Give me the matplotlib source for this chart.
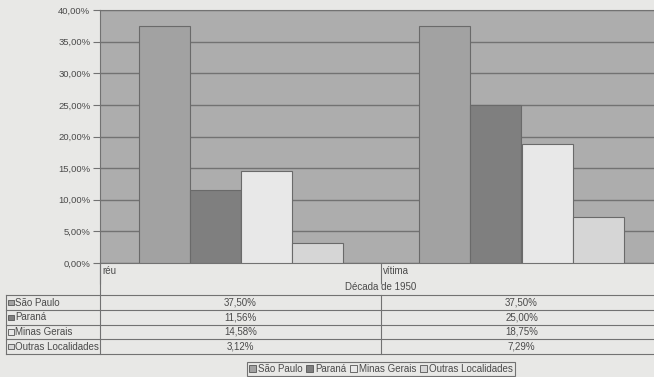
import matplotlib
matplotlib.use('Agg')
import matplotlib.pyplot as plt
from matplotlib.patches import Patch
from matplotlib.transforms import blended_transform_factory

plt.rcParams['font.family'] = ['Liberation Sans', 'DejaVu Sans']

categories = ['réu', 'vítima']
series = ['São Paulo', 'Paraná', 'Minas Gerais', 'Outras Localidades']
values = {
    'São Paulo': [37.50, 37.50],
    'Paraná': [11.56, 25.00],
    'Minas Gerais': [14.58, 18.75],
    'Outras Localidades': [3.12, 7.29],
}
yticks = [0, 5, 10, 15, 20, 25, 30, 35, 40]
group_title = 'Década de 1950'

colors = ['#a2a2a2', '#7f7f7f', '#e8e8e8', '#d6d6d6']
paper = '#e8e8e6'
plot_bg = '#adadad'
line_c = '#727272'
text_c = '#4a4a4a'
fs = 7

W, H = 654, 377
fig = plt.figure(figsize=(W / 100, H / 100), dpi=100, facecolor=paper)

# main plot, extends a bit past the right edge like the scan
ax = fig.add_axes([100 / W, (H - 263) / H, (662 - 100) / W, 253 / H])
ax.set_facecolor(plot_bg)
bw = 51 / 281
for i, s in enumerate(series):
    xs = [c + 0.5 + (i - 1.5) * bw for c in range(len(categories))]
    ax.bar(xs, values[s], width=bw, color=colors[i], edgecolor='#6a6a6a',
           linewidth=0.8, zorder=3)
ax.set_xlim(0, len(categories))
ax.set_ylim(0, 40)
ax.set_yticks(yticks)
ax.set_yticklabels(['{:.2f}%'.format(v).replace('.', ',') for v in yticks],
                   fontsize=6.8, color=text_c)
ax.yaxis.grid(True, color=line_c, linewidth=1.0, zorder=0)
ax.set_xticks(range(len(categories) + 1))
ax.set_xticklabels([])
ax.tick_params(axis='x', length=15, color=line_c, width=0.8)
ax.tick_params(axis='y', length=5, color=line_c, width=0.8, pad=2)
for sp in ax.spines.values():
    sp.set_color(line_c)
    sp.set_linewidth(0.8)

# overlay for table in pixel coords
tab = fig.add_axes([0, 0, 1, 1], facecolor='none')
tab.set_xlim(0, W)
tab.set_ylim(H, 0)
tab.axis('off')
bt = blended_transform_factory(ax.transData, tab.transData)

for c, name in enumerate(categories):
    tab.text(c + 0.008, 271, name, transform=bt, fontsize=fs, color=text_c,
             ha='left', va='center')
tab.text(len(categories) / 2, 287, group_title, transform=bt, fontsize=fs,
         color=text_c, ha='center', va='center')

rows = [295, 310, 325, 339, 354]
for y in rows:
    tab.plot([6, W], [y, y], color=line_c, linewidth=0.8)
tab.plot([6, 6], [rows[0], rows[-1]], color=line_c, linewidth=0.8)
tab.plot([100, 100], [263, rows[-1]], color=line_c, linewidth=0.8)
for c in range(1, len(categories)):
    tab.plot([c, c], [rows[0], rows[-1]], transform=bt, color=line_c, linewidth=0.8)

for i, s in enumerate(series):
    yc = (rows[i] + rows[i + 1]) / 2
    tab.add_patch(plt.Rectangle((8, yc - 3), 5.5, 5.5, facecolor=colors[i],
                                edgecolor='#555555', linewidth=0.6))
    tab.text(15, yc, s, fontsize=fs, color=text_c, ha='left', va='center')
    for c in range(len(categories)):
        tab.text(c + 0.5, yc, '{:.2f}%'.format(values[s][c]).replace('.', ','),
                 transform=bt, fontsize=fs, color=text_c, ha='center', va='center')

handles = [Patch(facecolor=colors[i], edgecolor='#555555', linewidth=0.6, label=s)
           for i, s in enumerate(series)]
leg = fig.legend(handles=handles, loc='center', bbox_to_anchor=(381 / W, 1 - 369 / H),
                 ncol=4, fontsize=fs, frameon=True, fancybox=False,
                 handlelength=0.7, handleheight=0.7, handletextpad=0.2,
                 columnspacing=0.4, borderpad=0.25, labelcolor=text_c)
leg.get_frame().set_edgecolor('#555555')
leg.get_frame().set_facecolor(paper)
leg.get_frame().set_linewidth(0.8)

fig.savefig('out.png', dpi=100, facecolor=paper)
